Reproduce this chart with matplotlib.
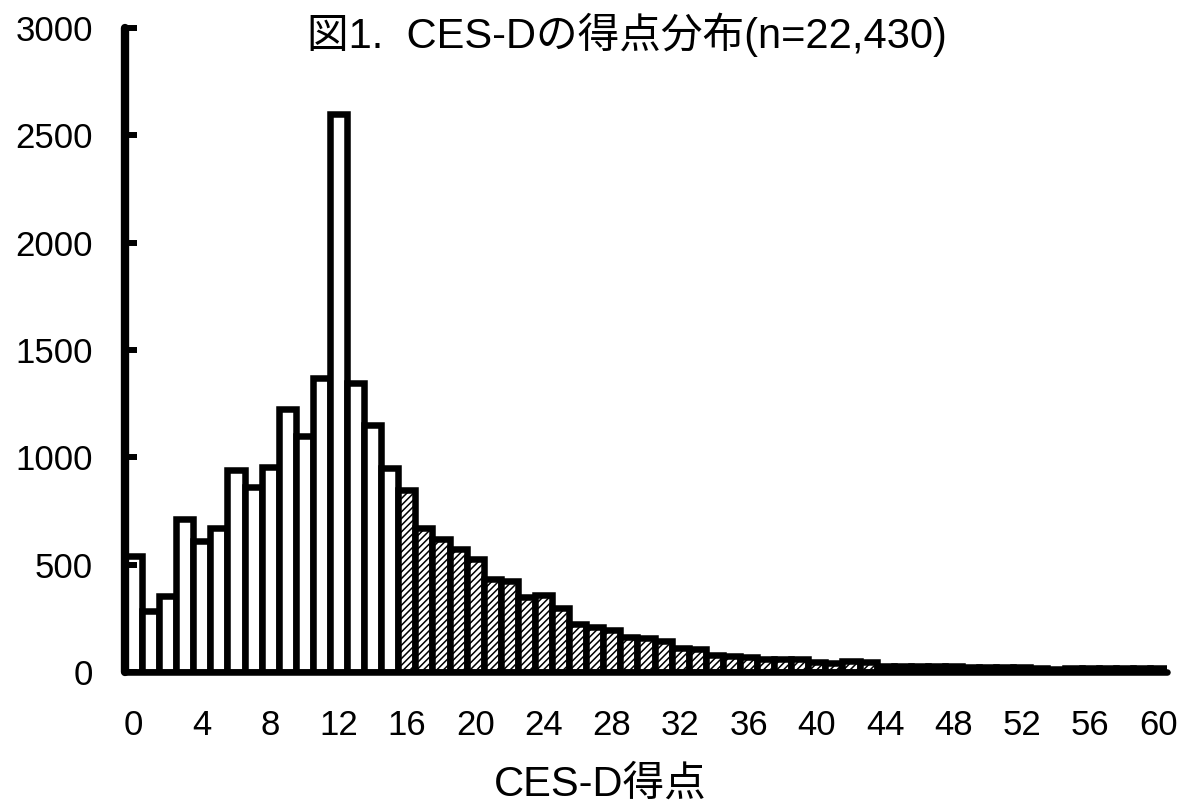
import numpy as np
import matplotlib
matplotlib.use('Agg')
import matplotlib.pyplot as plt

plt.rcParams['font.family'] = ['Liberation Sans', 'Noto Sans CJK JP']
plt.rcParams['hatch.linewidth'] = 1.1

# CES-D scores 0..60 and their counts
scores = list(range(61))
counts = [540, 285, 355, 715, 610, 670, 940, 860, 955, 1225,
          1100, 1370, 2600, 1345, 1150, 950, 850, 670, 620, 575,
          525, 435, 425, 350, 360, 300, 225, 210, 195, 165,
          160, 145, 110, 105, 80, 75, 70, 62, 60, 60,
          48, 40, 50, 48, 30, 28, 28, 28, 30, 25,
          22, 22, 22, 18, 14, 20, 20, 20, 20, 20, 20]
cutoff = 16
xticks = list(range(0, 61, 4))
yticks = list(range(0, 3001, 500))
title = "図1.  CES-Dの得点分布(n=22,430)"
xlabel = "CES-D得点"

fig = plt.figure(figsize=(11.86, 8.07), dpi=100)
ax = fig.add_axes([0.1054, 0.1673, 0.8786, 0.798])

lw = 4.7
low = [s for s in scores if s < cutoff]
high = [s for s in scores if s >= cutoff]
ax.bar(low, [counts[s] for s in low], width=1.0, facecolor='white',
       edgecolor='black', linewidth=lw, joinstyle='miter')
ax.bar(high, [counts[s] for s in high], width=1.0, facecolor='white',
       edgecolor='black', linewidth=lw, hatch='/////', joinstyle='miter')

ax.set_xlim(-0.5, 60.5)
ax.set_ylim(0, 3000)
ax.set_xticks(xticks)
ax.set_yticks(yticks)

for side in ['top', 'right']:
    ax.spines[side].set_visible(False)
ax.spines['left'].set_linewidth(6)
ax.spines['bottom'].set_linewidth(lw)
for side in ['left', 'bottom']:
    ax.spines[side].set_capstyle('round')

ax.tick_params(axis='y', direction='in', length=8.5, width=4.3,
               labelsize=25, pad=23)
ax.tick_params(axis='x', length=0, labelsize=25, pad=27)

ax.set_title(title, fontsize=30, x=0.482, y=0.976, va='center')
ax.set_xlabel(xlabel, fontsize=30, va='center')
ax.xaxis.set_label_coords(0.456, -0.175)

fig.savefig('out.png', dpi=100)
